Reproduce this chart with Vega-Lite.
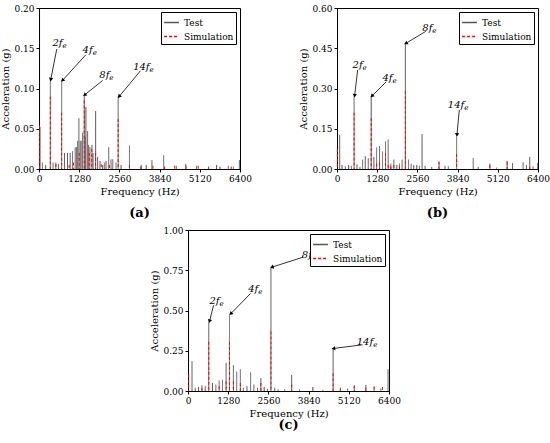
{
"$schema": "https://vega.github.io/schema/vega-lite/v6.json",
"padding": {"left": 0, "top": 3, "right": 0, "bottom": 0},
"background": "white",
"config": {
  "view": {"stroke": "black", "strokeWidth": 1},
  "font": "DejaVu Serif",
  "axis": {"labelOverlap": false, "labelFont": "DejaVu Serif", "titleFont": "DejaVu Serif", "labelFontSize": 9, "titleFontSize": 10, "titleFontWeight": "normal", "grid": false, "domainColor": "black", "tickColor": "black", "labelColor": "black", "titleColor": "black", "tickSize": 3, "labelPadding": 2, "titlePadding": 3, "labelFlush": false},
  "legend": {"strokeColor": "black", "fillColor": "white", "padding": 2, "labelFont": "DejaVu Serif", "labelFontSize": 9, "labelColor": "black", "symbolType": "stroke", "symbolSize": 220, "symbolStrokeWidth": 1.5, "rowPadding": 0, "labelOffset": 4, "cornerRadius": 0, "orient": "top-right", "offset": 4},
  "title": {"font": "DejaVu Serif", "fontSize": 13, "fontWeight": "bold", "color": "black", "orient": "bottom"},
  "text": {"font": "DejaVu Serif"}
},
"datasets": {
  "a": [
    {"f":32,"v":0.052,"s":"Test"},{"f":107,"v":0.008,"s":"Test"},{"f":213,"v":0.005,"s":"Test"},{"f":360,"v":0.11,"s":"Test"},{"f":448,"v":0.008,"s":"Test"},{"f":533,"v":0.008,"s":"Test"},{"f":619,"v":0.006,"s":"Test"},{"f":720,"v":0.11,"s":"Test"},{"f":811,"v":0.02,"s":"Test"},{"f":907,"v":0.02,"s":"Test"},{"f":992,"v":0.02,"s":"Test"},{"f":1067,"v":0.022,"s":"Test"},{"f":1152,"v":0.027,"s":"Test"},{"f":1195,"v":0.027,"s":"Test"},{"f":1230,"v":0.035,"s":"Test"},{"f":1269,"v":0.063,"s":"Test"},{"f":1310,"v":0.035,"s":"Test"},{"f":1344,"v":0.035,"s":"Test"},{"f":1387,"v":0.045,"s":"Test"},{"f":1440,"v":0.092,"s":"Test"},{"f":1470,"v":0.04,"s":"Test"},{"f":1493,"v":0.077,"s":"Test"},{"f":1547,"v":0.047,"s":"Test"},{"f":1580,"v":0.03,"s":"Test"},{"f":1621,"v":0.027,"s":"Test"},{"f":1685,"v":0.03,"s":"Test"},{"f":1720,"v":0.02,"s":"Test"},{"f":1803,"v":0.072,"s":"Test"},{"f":1867,"v":0.015,"s":"Test"},{"f":1941,"v":0.01,"s":"Test"},{"f":2027,"v":0.005,"s":"Test"},{"f":2080,"v":0.008,"s":"Test"},{"f":2133,"v":0.01,"s":"Test"},{"f":2219,"v":0.027,"s":"Test"},{"f":2293,"v":0.012,"s":"Test"},{"f":2347,"v":0.012,"s":"Test"},{"f":2453,"v":0.008,"s":"Test"},{"f":2520,"v":0.09,"s":"Test"},{"f":2613,"v":0.005,"s":"Test"},{"f":2880,"v":0.029,"s":"Test"},{"f":3253,"v":0.005,"s":"Test"},{"f":3413,"v":0.005,"s":"Test"},{"f":3595,"v":0.011,"s":"Test"},{"f":3968,"v":0.017,"s":"Test"},{"f":4373,"v":0.004,"s":"Test"},{"f":4672,"v":0.006,"s":"Test"},{"f":5013,"v":0.004,"s":"Test"},{"f":5653,"v":0.005,"s":"Test"},{"f":6027,"v":0.004,"s":"Test"},{"f":6187,"v":0.003,"s":"Test"},{"f":6379,"v":0.011,"s":"Test"},
    {"f":16,"v":0.054,"s":"Simulation"},{"f":360,"v":0.09,"s":"Simulation"},{"f":540,"v":0.006,"s":"Simulation"},{"f":720,"v":0.07,"s":"Simulation"},{"f":960,"v":0.005,"s":"Simulation"},{"f":1100,"v":0.008,"s":"Simulation"},{"f":1280,"v":0.02,"s":"Simulation"},{"f":1440,"v":0.085,"s":"Simulation"},{"f":1600,"v":0.02,"s":"Simulation"},{"f":1680,"v":0.025,"s":"Simulation"},{"f":1800,"v":0.02,"s":"Simulation"},{"f":1980,"v":0.006,"s":"Simulation"},{"f":2240,"v":0.005,"s":"Simulation"},{"f":2520,"v":0.062,"s":"Simulation"},{"f":2880,"v":0.005,"s":"Simulation"},{"f":3240,"v":0.003,"s":"Simulation"},{"f":3627,"v":0.004,"s":"Simulation"},{"f":4000,"v":0.003,"s":"Simulation"},{"f":4320,"v":0.004,"s":"Simulation"},{"f":4680,"v":0.004,"s":"Simulation"},{"f":5067,"v":0.004,"s":"Simulation"},{"f":5400,"v":0.003,"s":"Simulation"},{"f":5760,"v":0.003,"s":"Simulation"},{"f":6120,"v":0.003,"s":"Simulation"}
  ],
  "b": [
    {"f":85,"v":0.127,"s":"Test"},{"f":159,"v":0.015,"s":"Test"},{"f":264,"v":0.01,"s":"Test"},{"f":370,"v":0.015,"s":"Test"},{"f":455,"v":0.012,"s":"Test"},{"f":544,"v":0.27,"s":"Test"},{"f":635,"v":0.018,"s":"Test"},{"f":730,"v":0.008,"s":"Test"},{"f":815,"v":0.035,"s":"Test"},{"f":900,"v":0.048,"s":"Test"},{"f":995,"v":0.04,"s":"Test"},{"f":1088,"v":0.272,"s":"Test"},{"f":1174,"v":0.045,"s":"Test"},{"f":1259,"v":0.08,"s":"Test"},{"f":1354,"v":0.085,"s":"Test"},{"f":1449,"v":0.065,"s":"Test"},{"f":1545,"v":0.103,"s":"Test"},{"f":1629,"v":0.11,"s":"Test"},{"f":1714,"v":0.02,"s":"Test"},{"f":1809,"v":0.035,"s":"Test"},{"f":1904,"v":0.015,"s":"Test"},{"f":1989,"v":0.02,"s":"Test"},{"f":2073,"v":0.035,"s":"Test"},{"f":2176,"v":0.47,"s":"Test"},{"f":2275,"v":0.035,"s":"Test"},{"f":2359,"v":0.02,"s":"Test"},{"f":2444,"v":0.015,"s":"Test"},{"f":2539,"v":0.015,"s":"Test"},{"f":2624,"v":0.012,"s":"Test"},{"f":2708,"v":0.13,"s":"Test"},{"f":2803,"v":0.012,"s":"Test"},{"f":3015,"v":0.008,"s":"Test"},{"f":3248,"v":0.025,"s":"Test"},{"f":3438,"v":0.012,"s":"Test"},{"f":3544,"v":0.01,"s":"Test"},{"f":3808,"v":0.121,"s":"Test"},{"f":4337,"v":0.04,"s":"Test"},{"f":4496,"v":0.008,"s":"Test"},{"f":4866,"v":0.02,"s":"Test"},{"f":5078,"v":0.005,"s":"Test"},{"f":5416,"v":0.03,"s":"Test"},{"f":5586,"v":0.022,"s":"Test"},{"f":5924,"v":0.025,"s":"Test"},{"f":6030,"v":0.015,"s":"Test"},{"f":6136,"v":0.045,"s":"Test"},{"f":6241,"v":0.01,"s":"Test"},{"f":6390,"v":0.022,"s":"Test"},
    {"f":10,"v":0.075,"s":"Simulation"},{"f":544,"v":0.21,"s":"Simulation"},{"f":1088,"v":0.19,"s":"Simulation"},{"f":1259,"v":0.02,"s":"Simulation"},{"f":1354,"v":0.025,"s":"Simulation"},{"f":1545,"v":0.06,"s":"Simulation"},{"f":1629,"v":0.015,"s":"Simulation"},{"f":1714,"v":0.01,"s":"Simulation"},{"f":1809,"v":0.015,"s":"Simulation"},{"f":1989,"v":0.01,"s":"Simulation"},{"f":2176,"v":0.29,"s":"Simulation"},{"f":3248,"v":0.028,"s":"Simulation"},{"f":3808,"v":0.056,"s":"Simulation"},{"f":4866,"v":0.015,"s":"Simulation"},{"f":5416,"v":0.027,"s":"Simulation"},{"f":6136,"v":0.008,"s":"Simulation"}
  ],
  "c": [
    {"f":127,"v":0.185,"s":"Test"},{"f":232,"v":0.02,"s":"Test"},{"f":337,"v":0.025,"s":"Test"},{"f":443,"v":0.035,"s":"Test"},{"f":548,"v":0.03,"s":"Test"},{"f":660,"v":0.43,"s":"Test"},{"f":780,"v":0.05,"s":"Test"},{"f":886,"v":0.04,"s":"Test"},{"f":991,"v":0.065,"s":"Test"},{"f":1097,"v":0.07,"s":"Test"},{"f":1213,"v":0.175,"s":"Test"},{"f":1320,"v":0.475,"s":"Test"},{"f":1445,"v":0.16,"s":"Test"},{"f":1550,"v":0.12,"s":"Test"},{"f":1666,"v":0.134,"s":"Test"},{"f":1761,"v":0.02,"s":"Test"},{"f":1877,"v":0.03,"s":"Test"},{"f":1993,"v":0.115,"s":"Test"},{"f":2098,"v":0.04,"s":"Test"},{"f":2214,"v":0.02,"s":"Test"},{"f":2320,"v":0.08,"s":"Test"},{"f":2425,"v":0.025,"s":"Test"},{"f":2531,"v":0.015,"s":"Test"},{"f":2640,"v":0.765,"s":"Test"},{"f":2763,"v":0.02,"s":"Test"},{"f":2868,"v":0.01,"s":"Test"},{"f":3079,"v":0.01,"s":"Test"},{"f":3300,"v":0.1,"s":"Test"},{"f":3553,"v":0.01,"s":"Test"},{"f":3975,"v":0.01,"s":"Test"},{"f":4291,"v":0.008,"s":"Test"},{"f":4620,"v":0.26,"s":"Test"},{"f":4850,"v":0.01,"s":"Test"},{"f":5082,"v":0.015,"s":"Test"},{"f":5293,"v":0.03,"s":"Test"},{"f":5662,"v":0.038,"s":"Test"},{"f":5926,"v":0.02,"s":"Test"},{"f":6137,"v":0.015,"s":"Test"},{"f":6369,"v":0.135,"s":"Test"},
    {"f":21,"v":0.1,"s":"Simulation"},{"f":443,"v":0.02,"s":"Simulation"},{"f":660,"v":0.305,"s":"Simulation"},{"f":991,"v":0.03,"s":"Simulation"},{"f":1213,"v":0.06,"s":"Simulation"},{"f":1320,"v":0.305,"s":"Simulation"},{"f":1445,"v":0.06,"s":"Simulation"},{"f":1666,"v":0.05,"s":"Simulation"},{"f":2320,"v":0.05,"s":"Simulation"},{"f":2640,"v":0.37,"s":"Simulation"},{"f":3300,"v":0.04,"s":"Simulation"},{"f":3975,"v":0.025,"s":"Simulation"},{"f":4620,"v":0.11,"s":"Simulation"},{"f":4850,"v":0.02,"s":"Simulation"},{"f":5293,"v":0.035,"s":"Simulation"},{"f":5662,"v":0.02,"s":"Simulation"},{"f":5926,"v":0.03,"s":"Simulation"},{"f":6190,"v":0.025,"s":"Simulation"}
  ],
  "annA": [
    {"lab":"2f","fx":747,"fy":0.156,"ax":565,"ay":0.149,"tx":373,"ty":0.111},
    {"lab":"4f","fx":1707,"fy":0.148,"ax":1493,"ay":0.142,"tx":747,"ty":0.110},
    {"lab":"8f","fx":2240,"fy":0.117,"ax":2027,"ay":0.110,"tx":1451,"ty":0.092},
    {"lab":"14f","fx":3520,"fy":0.127,"ax":3232,"ay":0.122,"tx":2549,"ty":0.090}
  ],
  "annB": [
    {"lab":"2f","fx":815,"fy":0.387,"ax":656,"ay":0.369,"tx":561,"ty":0.273},
    {"lab":"4f","fx":1767,"fy":0.340,"ax":1566,"ay":0.325,"tx":1111,"ty":0.272},
    {"lab":"8f","fx":3036,"fy":0.526,"ax":2825,"ay":0.513,"tx":2190,"ty":0.468},
    {"lab":"14f","fx":4052,"fy":0.239,"ax":3893,"ay":0.220,"tx":3819,"ty":0.127}
  ],
  "annC": [
    {"lab":"2f","fx":1002,"fy":0.561,"ax":812,"ay":0.532,"tx":685,"ty":0.433},
    {"lab":"4f","fx":2235,"fy":0.635,"ax":1993,"ay":0.606,"tx":1360,"ty":0.480},
    {"lab":"8f","fx":3943,"fy":0.845,"ax":3659,"ay":0.831,"tx":2668,"ty":0.769},
    {"lab":"14f","fx":5894,"fy":0.305,"ax":5557,"ay":0.287,"tx":4629,"ty":0.264}
  ]
},
"vconcat": [
  {
    "hconcat": [
      {
        "width": 201, "height": 161,
        "title": {"text": "(a)", "offset": 11},
        "layer": [
          {"data": {"name": "a"}, "mark": {"type": "rule", "strokeWidth": 1},
           "encoding": {
             "x": {"field": "f", "type": "quantitative", "scale": {"domain": [0, 6400], "nice": false}, "axis": {"values": [0,1280,2560,3840,5120,6400], "format": "d", "title": "Frequency (Hz)", "labelOverlap": false, "labelFont": "DejaVu Serif", "titleFont": "DejaVu Serif", "titleFontWeight": "normal"}},
             "y": {"field": "v", "type": "quantitative", "scale": {"domain": [0, 0.2], "nice": false}, "axis": {"values": [0,0.05,0.1,0.15,0.2], "format": ".2f", "title": "Acceleration (g)", "labelOverlap": false, "labelFont": "DejaVu Serif", "titleFont": "DejaVu Serif", "titleFontWeight": "normal"}},
             "y2": {"datum": 0},
             "color": {"field": "s", "type": "nominal", "scale": {"domain": ["Test","Simulation"], "range": ["#555555","#ff0000"]}, "legend": {"title": null}},
             "strokeDash": {"field": "s", "type": "nominal", "scale": {"domain": ["Test","Simulation"], "range": [[1,0],[3,2]]}, "legend": {"title": null}}
           }},
          {"data": {"name": "annA"}, "mark": {"type": "rule", "color": "black", "strokeWidth": 0.8},
           "encoding": {"x": {"field": "ax", "type": "quantitative"}, "y": {"field": "ay", "type": "quantitative"}, "x2": {"field": "tx"}, "y2": {"field": "ty"}}},
          {"data": {"name": "annA"}, "transform": [{"calculate": "atan2((datum.tx-datum.ax)*201/6400, (datum.ty-datum.ay)*161/0.2)*180/PI", "as": "ang"}],
           "mark": {"type": "point", "shape": "triangle-up", "filled": true, "color": "black", "opacity": 1, "size": 18},
           "encoding": {"x": {"field": "tx", "type": "quantitative"}, "y": {"field": "ty", "type": "quantitative"}, "angle": {"field": "ang", "type": "quantitative", "scale": null}}},
          {"data": {"name": "annA"}, "mark": {"type": "text", "align": "right", "baseline": "middle", "font": "DejaVu Serif", "fontSize": 10, "fontStyle": "italic", "color": "black"},
           "encoding": {"x": {"field": "fx", "type": "quantitative"}, "y": {"field": "fy", "type": "quantitative"}, "text": {"field": "lab"}}},
          {"data": {"name": "annA"}, "mark": {"type": "text", "align": "left", "baseline": "middle", "font": "DejaVu Serif", "fontSize": 7, "fontStyle": "italic", "color": "black", "dy": 3},
           "encoding": {"x": {"field": "fx", "type": "quantitative"}, "y": {"field": "fy", "type": "quantitative"}, "text": {"value": "e"}}}
        ]
      },
      {
        "width": 201, "height": 161,
        "title": {"text": "(b)", "offset": 11},
        "layer": [
          {"data": {"name": "b"}, "mark": {"type": "rule", "strokeWidth": 1},
           "encoding": {
             "x": {"field": "f", "type": "quantitative", "scale": {"domain": [0, 6400], "nice": false}, "axis": {"values": [0,1280,2560,3840,5120,6400], "format": "d", "title": "Frequency (Hz)", "labelOverlap": false, "labelFont": "DejaVu Serif", "titleFont": "DejaVu Serif", "titleFontWeight": "normal"}},
             "y": {"field": "v", "type": "quantitative", "scale": {"domain": [0, 0.6], "nice": false}, "axis": {"values": [0,0.15,0.3,0.45,0.6], "format": ".2f", "title": "Acceleration (g)", "labelOverlap": false, "labelFont": "DejaVu Serif", "titleFont": "DejaVu Serif", "titleFontWeight": "normal"}},
             "y2": {"datum": 0},
             "color": {"field": "s", "type": "nominal", "scale": {"domain": ["Test","Simulation"], "range": ["#555555","#ff0000"]}, "legend": {"title": null}},
             "strokeDash": {"field": "s", "type": "nominal", "scale": {"domain": ["Test","Simulation"], "range": [[1,0],[3,2]]}, "legend": {"title": null}}
           }},
          {"data": {"name": "annB"}, "mark": {"type": "rule", "color": "black", "strokeWidth": 0.8},
           "encoding": {"x": {"field": "ax", "type": "quantitative"}, "y": {"field": "ay", "type": "quantitative"}, "x2": {"field": "tx"}, "y2": {"field": "ty"}}},
          {"data": {"name": "annB"}, "transform": [{"calculate": "atan2((datum.tx-datum.ax)*201/6400, (datum.ty-datum.ay)*161/0.6)*180/PI", "as": "ang"}],
           "mark": {"type": "point", "shape": "triangle-up", "filled": true, "color": "black", "opacity": 1, "size": 18},
           "encoding": {"x": {"field": "tx", "type": "quantitative"}, "y": {"field": "ty", "type": "quantitative"}, "angle": {"field": "ang", "type": "quantitative", "scale": null}}},
          {"data": {"name": "annB"}, "mark": {"type": "text", "align": "right", "baseline": "middle", "font": "DejaVu Serif", "fontSize": 10, "fontStyle": "italic", "color": "black"},
           "encoding": {"x": {"field": "fx", "type": "quantitative"}, "y": {"field": "fy", "type": "quantitative"}, "text": {"field": "lab"}}},
          {"data": {"name": "annB"}, "mark": {"type": "text", "align": "left", "baseline": "middle", "font": "DejaVu Serif", "fontSize": 7, "fontStyle": "italic", "color": "black", "dy": 3},
           "encoding": {"x": {"field": "fx", "type": "quantitative"}, "y": {"field": "fy", "type": "quantitative"}, "text": {"value": "e"}}}
        ]
      }
    ],
    "spacing": 46,
    "resolve": {"scale": {"color": "independent", "strokeDash": "independent"}, "legend": {"color": "independent", "strokeDash": "independent"}}
  },
  {
    "width": 201, "height": 161,
    "title": {"text": "(c)", "offset": 1},
    "layer": [
      {"data": {"name": "c"}, "mark": {"type": "rule", "strokeWidth": 1},
       "encoding": {
         "x": {"field": "f", "type": "quantitative", "scale": {"domain": [0, 6400], "nice": false}, "axis": {"values": [0,1280,2560,3840,5120,6400], "format": "d", "title": "Frequency (Hz)", "labelOverlap": false, "labelFont": "DejaVu Serif", "titleFont": "DejaVu Serif", "titleFontWeight": "normal"}},
         "y": {"field": "v", "type": "quantitative", "scale": {"domain": [0, 1], "nice": false}, "axis": {"values": [0,0.25,0.5,0.75,1], "format": ".2f", "title": "Acceleration (g)", "labelOverlap": false, "labelFont": "DejaVu Serif", "titleFont": "DejaVu Serif", "titleFontWeight": "normal"}},
         "y2": {"datum": 0},
         "color": {"field": "s", "type": "nominal", "scale": {"domain": ["Test","Simulation"], "range": ["#555555","#ff0000"]}, "legend": {"title": null}},
         "strokeDash": {"field": "s", "type": "nominal", "scale": {"domain": ["Test","Simulation"], "range": [[1,0],[3,2]]}, "legend": {"title": null}}
       }},
      {"data": {"name": "annC"}, "mark": {"type": "rule", "color": "black", "strokeWidth": 0.8},
       "encoding": {"x": {"field": "ax", "type": "quantitative"}, "y": {"field": "ay", "type": "quantitative"}, "x2": {"field": "tx"}, "y2": {"field": "ty"}}},
      {"data": {"name": "annC"}, "transform": [{"calculate": "atan2((datum.tx-datum.ax)*201/6400, (datum.ty-datum.ay)*161)*180/PI", "as": "ang"}],
       "mark": {"type": "point", "shape": "triangle-up", "filled": true, "color": "black", "opacity": 1, "size": 18},
       "encoding": {"x": {"field": "tx", "type": "quantitative"}, "y": {"field": "ty", "type": "quantitative"}, "angle": {"field": "ang", "type": "quantitative", "scale": null}}},
      {"data": {"name": "annC"}, "mark": {"type": "text", "align": "right", "baseline": "middle", "font": "DejaVu Serif", "fontSize": 10, "fontStyle": "italic", "color": "black"},
       "encoding": {"x": {"field": "fx", "type": "quantitative"}, "y": {"field": "fy", "type": "quantitative"}, "text": {"field": "lab"}}},
      {"data": {"name": "annC"}, "mark": {"type": "text", "align": "left", "baseline": "middle", "font": "DejaVu Serif", "fontSize": 7, "fontStyle": "italic", "color": "black", "dy": 3},
       "encoding": {"x": {"field": "fx", "type": "quantitative"}, "y": {"field": "fy", "type": "quantitative"}, "text": {"value": "e"}}}
    ]
  }
],
"spacing": 4,
"center": true,
"resolve": {"scale": {"color": "independent", "strokeDash": "independent"}, "legend": {"color": "independent", "strokeDash": "independent"}}
}
